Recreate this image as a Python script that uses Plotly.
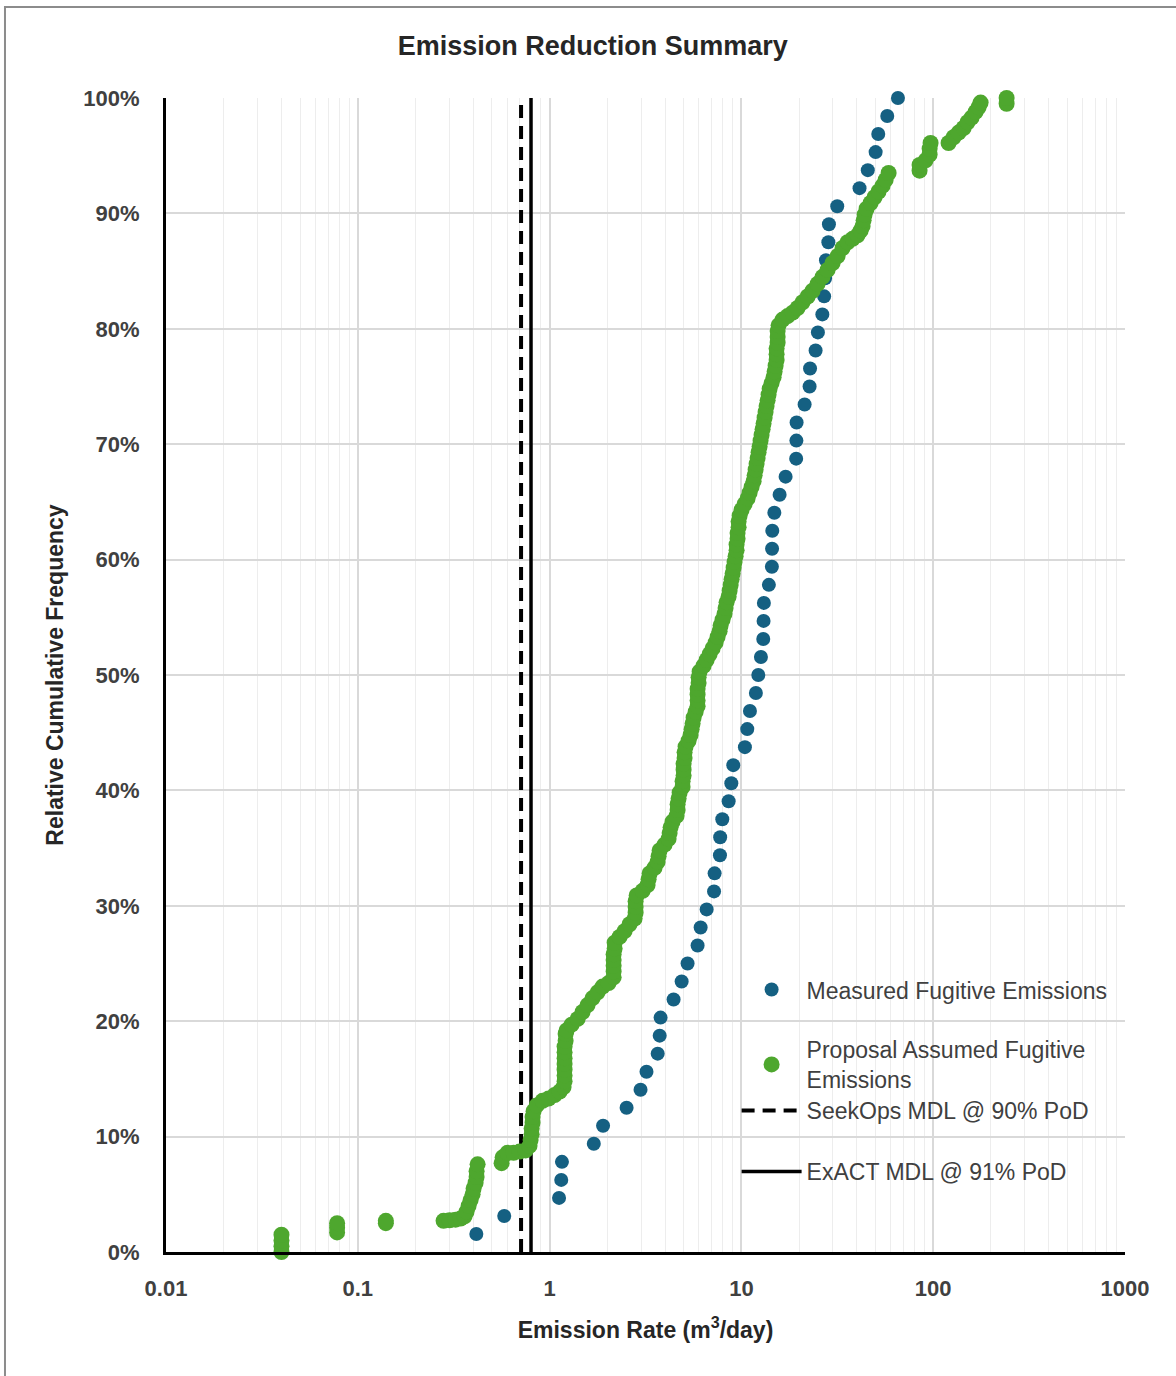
import plotly.graph_objects as go

# Measured fugitive emission rates (m3/day), sorted ascending
measured_rate = [0.415, 0.58, 1.12, 1.15, 1.16, 1.70, 1.90, 2.52, 2.98, 3.20,
                 3.66, 3.75, 3.79, 4.43, 4.88, 5.24, 5.91, 6.13, 6.59, 7.20,
                 7.25, 7.73, 7.75, 7.95, 8.58, 8.86, 9.07, 10.43, 10.73, 11.08,
                 11.9, 12.25, 12.64, 13.0, 13.05, 13.1, 13.91, 14.42, 14.45, 14.49,
                 14.85, 15.82, 17.0, 19.3, 19.35, 19.4, 21.36, 22.67, 22.8, 24.37,
                 25.05, 26.42, 27.0, 27.3, 27.6, 28.4, 28.6, 31.6, 41.3, 45.6,
                 50.1, 51.7, 57.6, 65.5]
# relative cumulative frequency (%) of each ranked measurement
measured_freq = [100.0 * (k + 1) / len(measured_rate) for k in range(len(measured_rate))]

# Proposal assumed fugitive emissions: rate (m3/day) and cumulative frequency (%)
proposal_rate = [
    0.04, 0.04, 0.04, 0.04, 0.078, 0.078, 0.078, 0.14, 0.14,
    0.280, 0.301, 0.3235, 0.3436, 0.3604, 0.3693, 0.3782, 0.3874, 0.3968, 0.4016,
    0.4113, 0.4163, 0.4163, 0.4213,
    0.562, 0.569, 0.604, 0.649, 0.698, 0.750, 0.786, 0.796, 0.806, 0.806,
    0.815, 0.815, 0.825, 0.856, 0.919, 0.988, 1.062, 1.128, 1.183,
    1.197, 1.197, 1.197, 1.197, 1.197, 1.197, 1.197, 1.212, 1.212,
    1.226, 1.302, 1.400, 1.486, 1.578, 1.676, 1.780, 1.889, 2.030,
    2.157, 2.157, 2.157, 2.157, 2.157, 2.183, 2.183, 2.317, 2.460, 2.613,
    2.775, 2.809, 2.809, 2.809, 2.843, 3.054, 3.243, 3.282, 3.322, 3.527,
    3.657, 3.701, 3.746, 3.977, 4.173, 4.224, 4.275, 4.378, 4.594, 4.650,
    4.650, 4.706, 4.763, 4.936, 4.936, 4.996, 4.996, 4.996, 5.056, 5.056,
    5.117, 5.305, 5.434, 5.500, 5.567, 5.634, 5.771, 5.911, 5.911, 5.911,
    5.911, 5.982, 5.982, 6.055, 6.353, 6.586, 6.827, 7.077, 7.336, 7.514,
    7.697, 7.791,
    7.98, 8.17, 8.27, 8.37, 8.58, 8.68, 8.79, 8.89, 9.00, 9.11,
    9.21, 9.33, 9.44, 9.44, 9.55, 9.55, 9.67, 9.67, 9.79, 10.02,
    10.39, 10.77, 11.04, 11.30, 11.58, 11.72, 11.86, 12.00, 12.15, 12.29,
    12.44, 12.59, 12.74, 12.90, 13.05, 13.21, 13.37, 13.53, 13.70, 13.86,
    14.03, 14.37, 14.72, 14.90, 15.08, 15.26, 15.26, 15.26, 15.45, 15.45,
    15.45, 15.63,
    16.40, 17.41, 18.49, 19.63, 20.85, 22.14, 23.51, 24.96, 26.50, 28.14,
    29.89, 31.74, 33.70, 35.78, 37.99, 40.34, 41.83, 42.85, 43.37, 43.89,
    44.96, 47.17, 49.48, 51.90, 54.49, 56.48, 58.55,
    84.9, 84.9, 91.3, 95.8, 95.8, 96.9,
    120.3, 127.8, 135.7, 144.1, 151.1, 158.6, 166.4, 172.5, 176.7,
    241.4, 241.4,
]
proposal_freq = [
    0.0, 0.5, 1.0, 1.5, 1.7, 2.1, 2.5, 2.5, 2.7,
    2.7, 2.75, 2.8, 2.9, 3.1, 3.5, 4.0, 4.5, 5.0, 5.5,
    6.0, 6.5, 7.0, 7.6,
    7.7, 8.2, 8.6, 8.6, 8.7, 8.8, 9.2, 9.7, 10.2, 10.7,
    11.2, 11.7, 12.2, 12.7, 13.1, 13.3, 13.6, 13.9, 14.3,
    14.8, 15.3, 15.8, 16.3, 16.8, 17.3, 17.8, 18.3, 18.9,
    19.2, 19.7, 20.2, 20.8, 21.4, 22.0, 22.5, 23.0, 23.3,
    23.8, 24.3, 24.8, 25.3, 25.8, 26.3, 26.8, 27.3, 27.8, 28.4,
    28.9, 29.4, 29.9, 30.4, 30.9, 31.3, 31.8, 32.3, 32.8, 33.3,
    33.8, 34.3, 34.8, 35.3, 35.8, 36.3, 36.8, 37.3, 37.8, 38.3,
    38.8, 39.3, 39.8, 40.3, 40.8, 41.3, 41.8, 42.3, 42.8, 43.3,
    43.8, 44.3, 44.8, 45.3, 45.8, 46.3, 46.8, 47.3, 47.8, 48.3,
    48.8, 49.3, 49.8, 50.3, 50.8, 51.3, 51.8, 52.3, 52.8, 53.3,
    53.8, 54.3,
    54.8, 55.3, 55.8, 56.3, 56.8, 57.3, 57.8, 58.3, 58.8, 59.3,
    59.8, 60.3, 60.8, 61.3, 61.8, 62.3, 62.8, 63.3, 63.8, 64.3,
    64.8, 65.3, 65.8, 66.3, 66.8, 67.3, 67.8, 68.3, 68.8, 69.3,
    69.8, 70.3, 70.8, 71.3, 71.8, 72.3, 72.8, 73.3, 73.8, 74.3,
    74.8, 75.3, 75.8, 76.3, 76.8, 77.3, 77.8, 78.3, 78.8, 79.3,
    79.8, 80.3,
    80.8, 81.1, 81.4, 81.8, 82.3, 82.8, 83.3, 83.9, 84.5, 85.1,
    85.7, 86.3, 87.0, 87.5, 87.8, 88.1, 88.5, 88.9, 89.4, 89.9,
    90.4, 90.9, 91.4, 91.9, 92.4, 92.9, 93.5,
    93.7, 94.2, 94.6, 95.1, 95.6, 96.1,
    96.1, 96.6, 97.0, 97.4, 97.9, 98.3, 98.8, 99.2, 99.6,
    99.5, 100.0,
]

# Method detection limits (m3/day)
seekops_mdl = 0.71
exact_mdl = 0.80

x_tick_vals = [0.01, 0.1, 1, 10, 100, 1000]
x_tick_text = ["0.01", "0.1", "1", "10", "100", "1000"]
x_minor_vals = [m * 10.0 ** e for e in range(-2, 3) for m in range(2, 10)]

BLUE = "#156082"
GREEN = "#4EA72E"
TICK_FONT = dict(family="Liberation Sans", size=22, color="#404040", weight="bold")
AXIS_TITLE_FONT = dict(family="Liberation Sans", size=23, color="#262626", weight="bold")
LEGEND_FONT = dict(family="Liberation Sans", size=23, color="#404040")

fig = go.Figure()

fig.add_trace(go.Scatter(
    x=[seekops_mdl, seekops_mdl], y=[0, 100], mode="lines",
    line=dict(color="black", width=4, dash="13px,8px"),
    name="SeekOps MDL @ 90% PoD", legend="legend2", legendrank=3, legendgroup="c",
))
fig.add_trace(go.Scatter(
    x=[exact_mdl, exact_mdl], y=[0, 100], mode="lines",
    line=dict(color="black", width=3.5),
    name="ExACT MDL @ 91% PoD", legend="legend2", legendrank=4, legendgroup="d",
))
fig.add_trace(go.Scatter(
    x=measured_rate, y=measured_freq, mode="markers",
    marker=dict(color=BLUE, size=14, line=dict(width=0)),
    name="Measured Fugitive Emissions", legendrank=1, legendgroup="a",
    cliponaxis=False,
))
fig.add_trace(go.Scatter(
    x=proposal_rate, y=proposal_freq, mode="markers",
    marker=dict(color=GREEN, size=16, line=dict(width=0)),
    name="Proposal Assumed Fugitive<br>Emissions", legendrank=2, legendgroup="b",
    cliponaxis=False,
))

fig.update_xaxes(
    type="log", range=[-2, 3],
    tickmode="array", tickvals=x_tick_vals, ticktext=x_tick_text,
    showgrid=True, gridcolor="#d9d9d9", gridwidth=1.5,
    minor=dict(tickmode="array", tickvals=x_minor_vals, showgrid=True,
               gridcolor="#ededed", gridwidth=1, ticks=""),
    showline=True, linecolor="black", linewidth=3,
    zeroline=False, ticks="", tickfont=TICK_FONT, ticklabelstandoff=15,
    title=dict(text="Emission Rate (m<sup>3</sup>/day)", font=AXIS_TITLE_FONT, standoff=22),
)
fig.update_yaxes(
    range=[0, 100], dtick=10, ticksuffix="%",
    showgrid=True, gridcolor="#d9d9d9", gridwidth=1.5,
    showline=True, linecolor="black", linewidth=3,
    zeroline=False, ticks="", tickfont=TICK_FONT, ticklabelstandoff=19,
    title=dict(text="Relative Cumulative Frequency", font=AXIS_TITLE_FONT, standoff=14),
)

fig.update_layout(
    width=1176, height=1376,
    margin=dict(l=166, r=51, t=98, b=124),
    paper_bgcolor="white", plot_bgcolor="white",
    title=dict(text="Emission Reduction Summary", x=0.504, xref="container",
               y=0.967, yref="container", yanchor="middle",
               font=dict(family="Liberation Sans", size=27, color="#262626", weight="bold")),
    legend=dict(
        x=0.595, y=0.246, xanchor="left", yanchor="top",
        bgcolor="rgba(255,255,255,0)", borderwidth=0,
        font=LEGEND_FONT, tracegroupgap=27, itemwidth=60,
    ),
    legend2=dict(
        x=0.595, y=0.1412, xanchor="left", yanchor="top",
        bgcolor="rgba(255,255,255,0)", borderwidth=0,
        font=LEGEND_FONT, tracegroupgap=28, itemwidth=60,
    ),
    shapes=[dict(type="rect", xref="paper", yref="paper",
                 x0=-0.1679, x1=1.10, y0=-0.2, y1=1.0789,
                 line=dict(color="#8c8c8c", width=2), layer="below")],
    showlegend=True,
)

fig.write_html("out.html")
